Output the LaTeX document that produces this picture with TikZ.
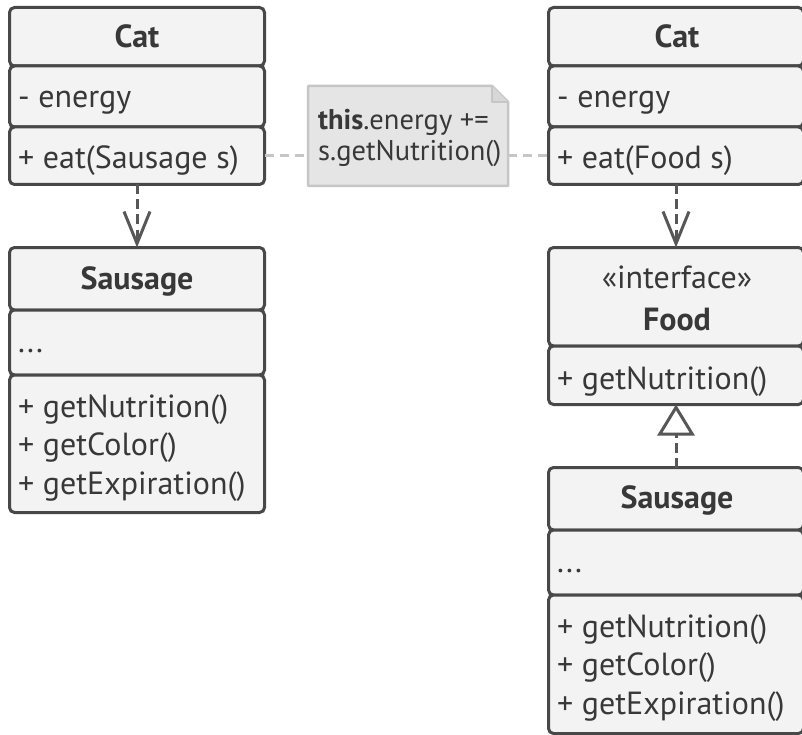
\documentclass[tikz,border=0pt]{standalone}
\usepackage{fontspec}
\setmainfont{PT Sans}
\usetikzlibrary{arrows.meta}
\definecolor{bordc}{HTML}{484848}
\definecolor{boxc}{HTML}{F3F3F3}
\definecolor{txtc}{HTML}{383838}
\definecolor{notec}{HTML}{E5E5E5}
\definecolor{notebd}{HTML}{C6C6C6}
\definecolor{arrc}{HTML}{575757}
\begin{document}
\begin{tikzpicture}[x=1pt,y=-1pt,
  comp/.style={draw=bordc, fill=boxc, line width=3pt, rounded corners=5pt,
    anchor=north west, minimum width=255pt, inner sep=0pt, outer sep=0pt},
  lbl/.style={text=txtc, font=\fontsize{32}{38}\selectfont, inner sep=0pt, anchor=base west},
  ttl/.style={text=txtc, font=\fontsize{32}{38}\selectfont\bfseries, inner sep=0pt, anchor=base},
  stereo/.style={text=txtc, font=\fontsize{32}{38}\selectfont, inner sep=0pt, anchor=base},
  dep/.style={draw=arrc, line width=3pt, dash pattern=on 10pt off 5pt,
    -{Straight Barb[length=32pt,width=26pt,line width=3pt]}},
  real/.style={draw=arrc, line width=3pt, dash pattern=on 10pt off 5pt,
    -{Triangle[open,length=31pt,width=37pt,line width=3pt]}},
  notelink/.style={draw=notebd, line width=3pt, dash pattern=on 9pt off 6pt},
  notetxt/.style={text=txtc, font=\fontsize{28.5}{34}\selectfont, inner sep=0pt, anchor=base west}]
\useasboundingbox (0,0) rectangle (802,735);
\clip (0,0) rectangle (802,735);
\fill[white] (0,0) rectangle (802,735);

% Left Cat
\node[comp, minimum height=58.5pt] (c1h) at (9.5,7.5) {};
\node[comp, minimum height=61pt] (c1a) at (9.5,66) {};
\node[comp, minimum height=57.5pt] (c1m) at (9.5,127) {};
\node[ttl] (c1t) at (137,48) {Cat};
\node[lbl] (c1e) at (18,108) {- energy};
\node[lbl] (c1o) at (18,169) {+ eat(Sausage s)};

% Left Sausage
\node[comp, minimum height=62.5pt] (s1h) at (9.5,247.5) {};
\node[comp, minimum height=65pt] (s1a) at (9.5,310) {};
\node[comp, minimum height=137.5pt] (s1m) at (9.5,375) {};
\node[ttl] (s1t) at (137,289) {Sausage};
\node[lbl] (s1d) at (18,352) {...};
\node[lbl] (s1o1) at (18,417) {+ getNutrition()};
\node[lbl] (s1o2) at (18,455) {+ getColor()};
\node[lbl] (s1o3) at (18,494) {+ getExpiration()};

% Right Cat
\node[comp, minimum height=58.5pt] (c2h) at (548.5,7.5) {};
\node[comp, minimum height=61pt] (c2a) at (548.5,66) {};
\node[comp, minimum height=57.5pt] (c2m) at (548.5,127) {};
\node[ttl] (c2t) at (677,48) {Cat};
\node[lbl] (c2e) at (557,108) {- energy};
\node[lbl] (c2o) at (557,169) {+ eat(Food s)};

% Food
\node[comp, minimum height=98.5pt] (fh) at (548.5,247.5) {};
\node[comp, minimum height=58.5pt] (fm) at (548.5,346) {};
\node[stereo] (fs) at (677,288) {«interface»};
\node[ttl] (ft) at (677,330) {Food};
\node[lbl] (fo) at (557,389) {+ getNutrition()};

% Right Sausage
\node[comp, minimum height=62.5pt] (s2h) at (548.5,467.5) {};
\node[comp, minimum height=65pt] (s2a) at (548.5,530) {};
\node[comp, minimum height=138.5pt] (s2m) at (548.5,595) {};
\node[ttl] (s2t) at (677,508) {Sausage};
\node[lbl] (s2d) at (557,572) {...};
\node[lbl] (s2o1) at (557,637) {+ getNutrition()};
\node[lbl] (s2o2) at (557,675) {+ getColor()};
\node[lbl] (s2o3) at (557,714) {+ getExpiration()};

% Note
\node[minimum width=200pt, minimum height=100pt, inner sep=0pt, outer sep=0pt, anchor=north west] (note) at (308,86) {};
\draw[notelink] (c1m.east) -- (c1m.east -| note.west);
\draw[notelink] (c2m.west -| note.east) -- (c2m.west);
\draw[draw=notebd, fill=notec, line width=2.5pt, line join=round]
  (note.north west) -- ([xshift=-16pt]note.north east) -- ([yshift=-16pt]note.north east)
  -- (note.south east) -- (note.south west) -- cycle;
\draw[draw=notebd, fill=notebd!70!white, line width=2pt, line join=round]
  ([xshift=-16pt]note.north east) -- ([xshift=-16pt,yshift=-16pt]note.north east) -- ([yshift=-16pt]note.north east);
\node[notetxt] (n1) at (318,130) {\textbf{this}.energy +=};
\node[notetxt] (n2) at (318,161) {s.getNutrition()};

% Connectors
\draw[dep] (c1m.south) -- (s1h.north);
\draw[dep] (c2m.south) -- (fh.north);
\draw[real] (s2h.north) -- (fm.south);
\end{tikzpicture}
\end{document}
